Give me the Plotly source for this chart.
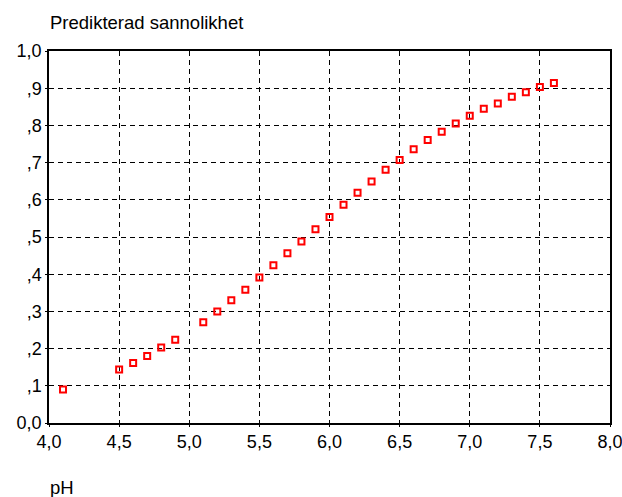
import plotly.graph_objects as go

ph = [4.1, 4.5, 4.6, 4.7, 4.8, 4.9, 5.1, 5.2, 5.3, 5.4, 5.5, 5.6, 5.7, 5.8, 5.9,
      6.0, 6.1, 6.2, 6.3, 6.4, 6.5, 6.6, 6.7, 6.8, 6.9, 7.0, 7.1, 7.2, 7.3, 7.4, 7.5, 7.6]
prob = [0.090, 0.144, 0.161, 0.180, 0.203, 0.224, 0.271, 0.300, 0.330, 0.358, 0.391,
        0.424, 0.456, 0.488, 0.521, 0.554, 0.587, 0.619, 0.649, 0.681, 0.707, 0.736,
        0.761, 0.783, 0.805, 0.826, 0.845, 0.859, 0.877, 0.889, 0.903, 0.914]

x_ticks = [4.0, 4.5, 5.0, 5.5, 6.0, 6.5, 7.0, 7.5, 8.0]
x_labels = ["4,0", "4,5", "5,0", "5,5", "6,0", "6,5", "7,0", "7,5", "8,0"]
y_ticks = [0.0, 0.1, 0.2, 0.3, 0.4, 0.5, 0.6, 0.7, 0.8, 0.9, 1.0]
y_labels = ["0,0", ",1", ",2", ",3", ",4", ",5", ",6", ",7", ",8", ",9", "1,0"]

FONT = "Liberation Sans, Arial, sans-serif"
W, H = 622, 497
L, R, T, B = 49, 12, 51, 74
pw, phh = W - L - R, H - T - B

fig = go.Figure()
fig.add_trace(go.Scatter(
    x=ph, y=prob, mode="markers",
    marker=dict(symbol="square-open", size=6, color="#ff0000",
                line=dict(width=2, color="#ff0000")),
    showlegend=False, cliponaxis=False,
))

axis_common = dict(
    showline=True, linecolor="black", linewidth=1.5, mirror=True,
    showgrid=True, gridcolor="black", gridwidth=1, griddash="5px,4px",
    zeroline=False, ticks="outside", ticklen=2, tickcolor="black",
    automargin=False, ticklabeloverflow="allow",
    tickfont=dict(family=FONT, size=18, color="black"),
)

fig.update_layout(
    width=W, height=H,
    margin=dict(l=L, r=R, t=T, b=B),
    paper_bgcolor="white", plot_bgcolor="white",
    font=dict(family=FONT, size=18, color="black"),
    xaxis=dict(range=[4.0, 8.0], tickvals=x_ticks, ticktext=x_labels, **axis_common),
    yaxis=dict(range=[0.0, 1.0], tickvals=y_ticks, ticktext=y_labels, **axis_common),
)
fig.add_annotation(text="Predikterad sannolikhet", xref="paper", yref="paper",
                   x=(48 - L) / pw, y=(H - B - 22) / phh,
                   xanchor="left", yanchor="middle", showarrow=False,
                   font=dict(size=18.5))
fig.add_annotation(text="pH", xref="paper", yref="paper",
                   x=(48 - L) / pw, y=(H - B - 487) / phh,
                   xanchor="left", yanchor="middle", showarrow=False,
                   font=dict(size=18.5))

fig.write_html(
    "out.html",
    config={"displayModeBar": False},
    post_script="document.body.style.margin='0';document.body.style.overflow='hidden';",
)
